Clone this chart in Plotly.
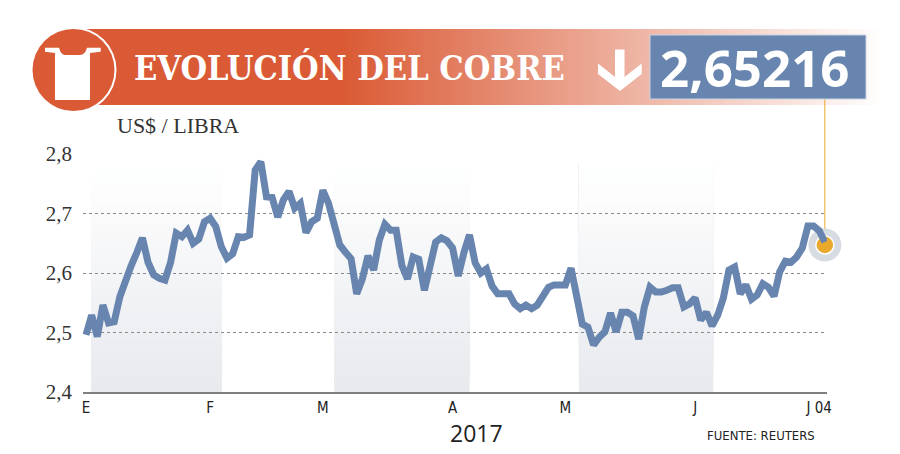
import plotly.graph_objects as go

price = [2.496,2.529,2.493,2.546,2.516,2.518,2.560,2.588,2.612,2.634,2.659,2.618,2.597,2.591,2.588,2.618,
2.667,2.661,2.672,2.650,2.657,2.686,2.692,2.678,2.644,2.625,2.632,2.661,2.660,2.664,2.773,2.787,2.728,2.727,
2.694,2.723,2.737,2.709,2.717,2.668,2.686,2.692,2.739,2.717,2.681,2.647,2.635,2.624,2.565,2.590,2.629,2.605,
2.655,2.682,2.672,2.672,2.613,2.590,2.627,2.623,2.571,2.617,2.652,2.659,2.654,2.642,2.595,2.634,2.664,2.617,
2.600,2.607,2.578,2.565,2.565,2.565,2.548,2.540,2.546,2.540,2.546,2.563,2.576,2.580,2.580,2.580,2.608,2.555,
2.514,2.509,2.479,2.492,2.501,2.533,2.501,2.534,2.534,2.528,2.489,2.543,2.576,2.568,2.568,2.571,2.575,2.575,
2.543,2.548,2.558,2.521,2.534,2.511,2.529,2.558,2.605,2.610,2.565,2.580,2.556,2.563,2.582,2.576,2.561,2.602,
2.620,2.618,2.627,2.642,2.679,2.679,2.671,2.652]
days = list(range(len(price)))
last_value = 2.647
tick_days = [0, 22, 42, 65, 85, 108, 130]
tick_names = ["E", "F", "M", "A", "M", "J", "J 04"]
y_ticks = [2.4, 2.5, 2.6, 2.7, 2.8]
y_names = ["2,4", "2,5", "2,6", "2,7", "2,8"]
month_bands = [(0.9, 24.1), (44, 68), (87.4, 111.2)]

BLUE = "#6785AE"; ORANGE = "#DA5A35"; GOLD = "#E9A92C"
L, R, T, B = 83, 827, 154, 392
px = lambda x: (x - L) / (R - L)
py = lambda y: (B - y) / (B - T)
def mix(a, b, t):
    return "rgb(%d,%d,%d)" % tuple(round(p + (q - p) * t) for p, q in zip(a, b))

shapes = []
for x in range(85, 880, 4):
    t = max(0, (x - 340) / 540)
    shapes.append(dict(type="rect", xref="paper", yref="paper", x0=px(x), x1=px(880), y0=py(105), y1=py(29),
                       fillcolor=mix((218, 90, 53), (255, 255, 255), t), line_width=0, layer="below"))
steps = 44
top = 2.785
for a, b in month_bands:
    for i in range(steps):
        v0 = 2.4 + i * (top - 2.4) / steps
        shapes.append(dict(type="rect", xref="x", yref="y", x0=a, x1=b, y0=v0, y1=top,
                           fillcolor=mix((232, 234, 238), (255, 255, 255), i / (steps - 1)), line_width=0, layer="below"))
def circle(cx, cy, r, color):
    return dict(type="circle", xref="paper", yref="paper", x0=px(cx - r), x1=px(cx + r), y0=py(cy - r), y1=py(cy + r),
                fillcolor=color, line_width=0, layer="above")
shapes.append(circle(73.5, 70, 43, "white"))
shapes.append(circle(73.5, 70, 41, ORANGE))
def poly(points, color):
    d = "M " + " L ".join("%f %f" % (px(x), py(y)) for x, y in points) + " Z"
    return dict(type="path", xref="paper", yref="paper", path=d, fillcolor=color, line_width=0, layer="above")
shirt = ("M {} {} L {} {} Q {} {} {} {} L {} {} Q {} {} {} {} L {} {} L {} {} L {} {} L {} {} L {} {} L {} {} L {} {} Z").format(
    px(45), py(47.7), px(59), py(47.7), px(61), py(55), px(65), py(55), px(80), py(55), px(85), py(55), px(87), py(47.7),
    px(100.7), py(47.7), px(100.7), py(51.7), px(90), py(53), px(90), py(100), px(55), py(100), px(55), py(53), px(45), py(51.7))
shapes.append(dict(type="path", xref="paper", yref="paper", path=shirt, fillcolor="white", line_width=0, layer="above"))
shapes.append(poly([(615, 49.5), (624.5, 49.5), (624.5, 77), (641.7, 63.5), (641.7, 74), (620, 91), (598, 74), (598, 63.5), (615, 77)], "white"))
shapes.append(dict(type="rect", xref="paper", yref="paper", x0=px(650), x1=px(866), y0=py(99), y1=py(35),
                   fillcolor=BLUE, line=dict(color="#C9D3E2", width=1), layer="above"))
shapes.append(dict(type="line", xref="x", yref="paper", x0=days[-1], x1=days[-1], y0=py(242), y1=py(99),
                   line=dict(color=GOLD, width=1), layer="between"))

fig = go.Figure()
fig.add_trace(go.Scatter(x=[days[-1]], y=[last_value], mode="markers", cliponaxis=False, hoverinfo="skip",
                         marker=dict(size=33, color="#D6DCE2")))
fig.add_trace(go.Scatter(x=[days[-1]], y=[last_value], mode="markers", cliponaxis=False, hoverinfo="skip",
                         marker=dict(size=18, color=GOLD, line=dict(color="white", width=1.5))))
fig.add_trace(go.Scatter(x=days, y=price, mode="lines", cliponaxis=False, line=dict(color=BLUE, width=7)))

def label(x, y, text, size, family, color="#222", anchor="left", weight=None):
    fig.add_annotation(xref="paper", yref="paper", x=px(x), y=py(y), text=text, showarrow=False, xanchor=anchor,
                       yanchor="middle", borderpad=0, font=dict(size=size, family=family, color=color, weight=weight))

label(133, 68, "EVOLUCIÓN DEL COBRE", 34, "DejaVu Serif Condensed", "white", weight="bold")
label(755, 67, "2,65216", 51, "Open Sans", "white", "center", 700)
label(116, 125, "US$ / LIBRA", 22, "Liberation Serif", "#333")
label(476, 433, "2017", 23, "Open Sans", "#222", "center")
label(761, 435, "FUENTE: REUTERS", 13, "DejaVu Sans Condensed", "#222", "center")

fig.update_layout(
    width=900, height=454, margin=dict(l=L, r=900 - R, t=T, b=454 - B), autosize=False,
    paper_bgcolor="white", plot_bgcolor="white", showlegend=False, shapes=shapes,
    xaxis=dict(range=[(L - 86) / 5.64, (R - 86) / 5.64], tickvals=tick_days, ticktext=tick_names, showgrid=False, zeroline=False,
               showline=True, linecolor="#7F7F7F", linewidth=2, ticks="", ticklabelstandoff=1,
               tickfont=dict(size=15, family="DejaVu Sans Condensed", color="#222")),
    yaxis=dict(range=[2.4, 2.8], tickvals=y_ticks, ticktext=y_names, showgrid=True, gridcolor="#8A8A8A", griddash="dot", gridwidth=1,
               zeroline=False, showline=False, ticks="", ticklabelstandoff=10,
               tickfont=dict(size=21, family="Liberation Serif", color="#333")),
)
fig.write_html("out.html", config=dict(displayModeBar=False),
               post_script="document.body.style.margin='0';document.documentElement.style.overflow='hidden';")
